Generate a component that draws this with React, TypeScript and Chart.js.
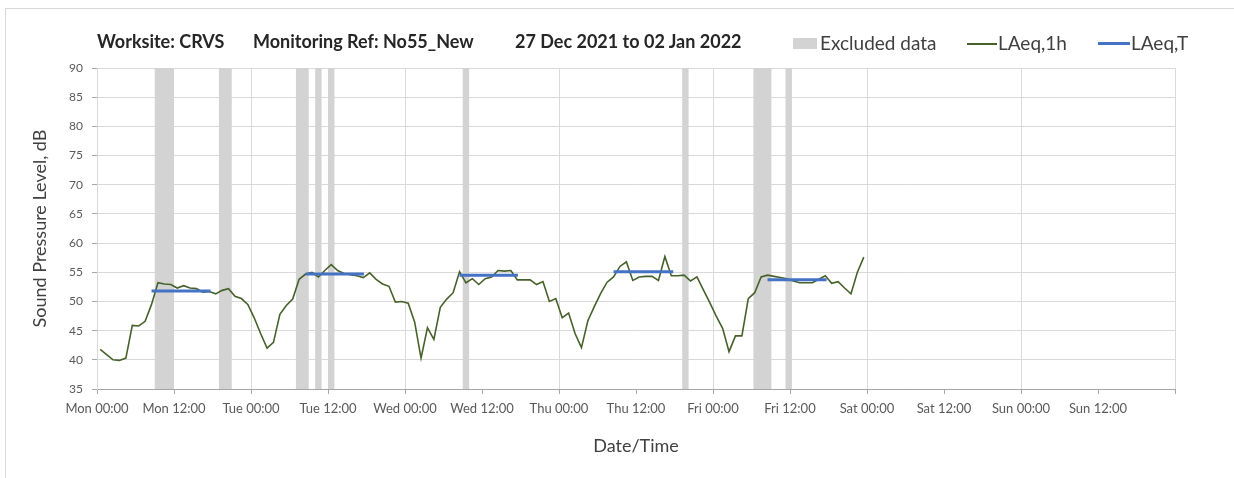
import React, { useEffect, useRef } from "react";
import { Chart, registerables } from "chart.js";

Chart.register(...registerables);

// Hourly LAeq,1h values starting Mon 00:00 (plotted at the middle of each hour)
const laeq1h: number[] = [
  41.8, 40.9, 40.0, 39.9, 40.3, 45.9, 45.8, 46.6, 49.5, 53.2,
  53.0, 52.9, 52.3, 52.7, 52.3, 52.2, 51.6, 51.7, 51.3, 51.9,
  52.2, 50.9, 50.5, 49.5, 47.2, 44.5, 42.0, 43.0, 47.8, 49.3,
  50.4, 53.8, 54.7, 55.0, 54.2, 55.3, 56.3, 55.3, 54.8, 54.6,
  54.4, 54.1, 54.9, 53.8, 53.0, 52.6, 49.9, 50.0, 49.7, 46.5,
  40.3, 45.5, 43.5, 49.0, 50.4, 51.5, 55.1, 53.2, 53.9, 52.9,
  53.9, 54.2, 55.3, 55.2, 55.3, 53.7, 53.7, 53.7, 52.9, 53.4,
  50.0, 50.5, 47.2, 48.0, 44.5, 42.1, 46.7, 49.1, 51.4, 53.3,
  54.2, 56.0, 56.8, 53.6, 54.2, 54.3, 54.3, 53.6, 57.7, 54.4,
  54.4, 54.5, 53.5, 54.2, 52.0, 49.8, 47.5, 45.4, 41.4, 44.1,
  44.1, 50.5, 51.5, 54.2, 54.5, 54.3, 54.1, 53.9, 53.5, 53.2,
  53.2, 53.2, 53.8, 54.4, 53.1, 53.4, 52.3, 51.3, 55.0, 57.6,
];

// LAeq,T daytime periods (hours from Mon 00:00)
const laeqTStart: number[] = [8.5, 32.5, 56.5, 80.5, 104.5];
const laeqTEnd: number[] = [17.7, 41.6, 65.6, 89.8, 113.7];
const laeqTLevel: number[] = [51.8, 54.7, 54.5, 55.1, 53.7];

// Excluded data periods (hours from Mon 00:00)
const excludedStart: number[] = [9, 19, 31, 34, 36, 57, 91.2, 102.3, 107.3];
const excludedEnd: number[] = [12, 21, 33, 35, 37, 58, 92.2, 105.1, 108.3];

const dayNames: string[] = ["Mon", "Tue", "Wed", "Thu", "Fri", "Sat", "Sun"];
const timeLabels: string[] = ["00:00", "12:00"];

const titleParts: string[] = [
  "Worksite: CRVS",
  "Monitoring Ref: No55_New",
  "27 Dec 2021 to 02 Jan 2022",
];

const FONT = "Lato, 'Open Sans', sans-serif";
const GREEN = "#46622a";
const BLUE = "#4472c4";
const BAND = "#d3d3d3";

const excludedPlugin = {
  id: "excludedBands",
  beforeDatasetsDraw(chart: any) {
    const { ctx, chartArea, scales } = chart;
    const xs = scales.x;
    ctx.save();
    ctx.fillStyle = BAND;
    for (let i = 0; i < excludedStart.length; i++) {
      const x0 = xs.getPixelForValue(excludedStart[i]);
      const x1 = xs.getPixelForValue(excludedEnd[i]);
      ctx.fillRect(x0, chartArea.top, x1 - x0, chartArea.bottom - chartArea.top);
    }
    ctx.restore();
  },
};

export default function App() {
  const ref = useRef<HTMLCanvasElement | null>(null);

  useEffect(() => {
    if (!ref.current) return;
    const lineData = laeq1h.map((v, i) => ({ x: i + 0.5, y: v }));
    const tData: any[] = [];
    for (let i = 0; i < laeqTStart.length; i++) {
      tData.push({ x: laeqTStart[i], y: laeqTLevel[i] });
      tData.push({ x: laeqTEnd[i], y: laeqTLevel[i] });
      tData.push({ x: laeqTEnd[i] + 0.01, y: null });
    }
    const chart = new Chart(ref.current, {
      type: "line",
      data: {
        datasets: [
          {
            label: "LAeq,T",
            data: tData,
            borderColor: BLUE,
            borderWidth: 3,
            pointRadius: 0,
            spanGaps: false,
            order: 0,
          },
          {
            label: "LAeq,1h",
            data: lineData,
            borderColor: GREEN,
            borderWidth: 1.6,
            pointRadius: 0,
            tension: 0,
            order: 1,
          },
        ],
      },
      options: {
        animation: false,
        responsive: false,
        maintainAspectRatio: false,
        layout: { padding: { left: 0, right: 59, top: 68, bottom: 0 } },
        plugins: {
          legend: { display: false },
          tooltip: { enabled: false },
        },
        scales: {
          x: {
            type: "linear",
            min: 0,
            max: 168,
            afterFit(scale: any) {
              scale.height = 89;
            },
            ticks: {
              stepSize: 12,
              autoSkip: false,
              maxRotation: 0,
              padding: 7,
              color: "#595959",
              font: { family: FONT, size: 13 },
              callback: (value: any) => {
                const v = Number(value);
                if (v >= 168) return "";
                return dayNames[Math.floor(v / 24)] + " " + timeLabels[(v % 24) / 12];
              },
            },
            grid: {
              color: (c: any) =>
                c.tick && c.tick.value % 24 === 0 ? "#d9d9d9" : "rgba(0,0,0,0)",
              tickColor: "#a6a6a6",
              tickLength: 5,
              lineWidth: 1,
            },
            border: { color: "#a6a6a6", width: 1 },
            title: {
              display: true,
              text: "Date/Time",
              color: "#404040",
              font: { family: FONT, size: 18 },
              padding: { top: 0, bottom: 21 },
            },
          },
          y: {
            min: 35,
            max: 90,
            afterFit(scale: any) {
              scale.width = 97;
            },
            ticks: {
              stepSize: 5,
              padding: 9,
              color: "#595959",
              font: { family: FONT, size: 12 },
            },
            grid: {
              color: "#d9d9d9",
              tickColor: "#a6a6a6",
              tickLength: 5,
            },
            border: { color: "#d9d9d9" },
            title: {
              display: true,
              text: "Sound Pressure Level, dB",
              color: "#404040",
              font: { family: FONT, size: 18 },
              padding: { top: 29, bottom: 0 },
            },
          },
        },
      },
      plugins: [excludedPlugin],
    });
    return () => chart.destroy();
  }, []);

  const titleLeft = [97, 253, 515];
  const textStyle: React.CSSProperties = {
    position: "absolute",
    fontFamily: FONT,
    whiteSpace: "nowrap",
    lineHeight: "22px",
  };

  return (
    <div
      style={{
        position: "absolute",
        left: 0,
        top: 0,
        width: 1234,
        height: 478,
        overflow: "hidden",
        background: "#ffffff",
      }}
    >
      <div
        style={{
          position: "absolute",
          left: 5,
          top: 8,
          width: 1240,
          height: 480,
          border: "1px solid #d9d9d9",
          boxSizing: "border-box",
        }}
      />
      <canvas
        ref={ref}
        width={1234}
        height={478}
        style={{ position: "absolute", left: 0, top: 0, width: 1234, height: 478 }}
      />
      {titleParts.map((t, i) => (
        <div
          key={i}
          style={{
            ...textStyle,
            left: titleLeft[i],
            top: 30,
            fontWeight: 700,
            fontSize: 18,
            color: "#262626",
          }}
        >
          {t}
        </div>
      ))}
      <div style={{ position: "absolute", left: 793, top: 38, width: 24, height: 11, background: BAND }} />
      <div style={{ ...textStyle, left: 820, top: 32, fontSize: 19, color: "#404040" }}>Excluded data</div>
      <div style={{ position: "absolute", left: 967, top: 43, width: 30, height: 1.5, background: GREEN }} />
      <div style={{ ...textStyle, left: 998, top: 32, fontSize: 19, color: "#404040" }}>LAeq,1h</div>
      <div style={{ position: "absolute", left: 1098, top: 42, width: 32, height: 3, background: BLUE }} />
      <div style={{ ...textStyle, left: 1131, top: 32, fontSize: 19, color: "#404040" }}>LAeq,T</div>
    </div>
  );
}
